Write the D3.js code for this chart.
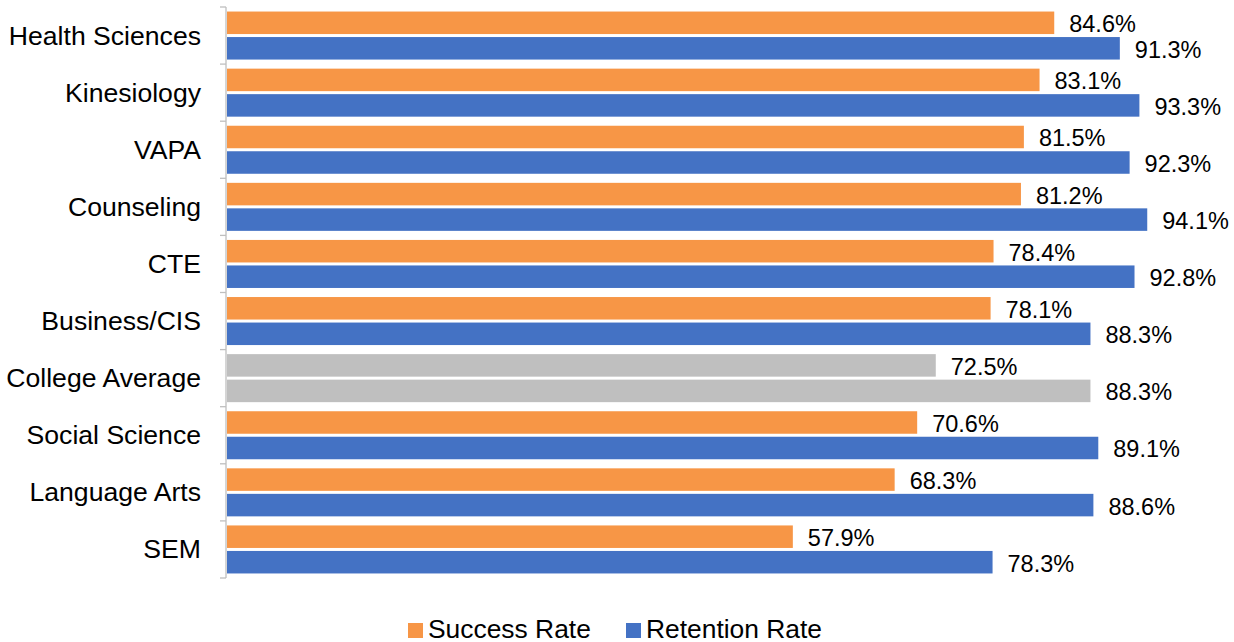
<!DOCTYPE html>
<html>
<head>
<meta charset="utf-8">
<script src="https://cdn.jsdelivr.net/npm/d3@7"></script>
<style>
  html, body { margin: 0; padding: 0; background: #fff; }
  svg { display: block; font-family: "Liberation Sans", Arial, sans-serif; }
</style>
</head>
<body>
<svg id="chart" width="1234" height="642"></svg>
<script>
// Course success and retention by division
const categories = ["Health Sciences", "Kinesiology", "VAPA", "Counseling", "CTE",
  "Business/CIS", "College Average", "Social Science", "Language Arts", "SEM"];
const successRate = [84.6, 83.1, 81.5, 81.2, 78.4, 78.1, 72.5, 70.6, 68.3, 57.9];
const retentionRate = [91.3, 93.3, 92.3, 94.1, 92.8, 88.3, 88.3, 89.1, 88.6, 78.3];
const seriesNames = ["Success Rate", "Retention Rate"];
const highlightCategory = "College Average";

const colors = { "Success Rate": "#F79646", "Retention Rate": "#4472C4" };
const highlightColor = "#BFBFBF";

const svg = d3.select("#chart");
const plotLeft = 226, plotRight = 1205, plotTop = 7, plotBottom = 578;

const x = d3.scaleLinear().domain([0, 100]).range([plotLeft, plotRight]);
const y = d3.scaleBand().domain(categories).range([plotTop, plotBottom]).padding(0);
const inner = d3.scaleBand().domain(seriesNames).range([0, y.bandwidth()])
  .paddingInner(0.1176).paddingOuter(0.178);

const rows = categories.map((c, i) => ({
  category: c,
  values: [
    { series: "Success Rate", value: successRate[i] },
    { series: "Retention Rate", value: retentionRate[i] }
  ]
}));

const groups = svg.append("g").selectAll("g").data(rows).join("g")
  .attr("transform", d => `translate(0,${y(d.category)})`);

groups.selectAll("rect").data(d => d.values.map(v => ({ ...v, category: d.category })))
  .join("rect")
  .attr("x", x(0) + 1)
  .attr("y", d => inner(d.series))
  .attr("width", d => x(d.value) - x(0) - 1)
  .attr("height", inner.bandwidth())
  .attr("fill", d => d.category === highlightCategory ? highlightColor : colors[d.series]);

groups.selectAll("text").data(d => d.values)
  .join("text")
  .attr("x", d => x(d.value) + 15)
  .attr("y", d => inner(d.series) + inner.bandwidth() / 2 + 1.5)
  .attr("dominant-baseline", "central")
  .attr("font-size", 23.5)
  .attr("fill", "#000")
  .text(d => d.value.toFixed(1) + "%");

// Category axis on the left, ticks between categories
const axisG = svg.append("g");
axisG.append("line")
  .attr("x1", plotLeft).attr("x2", plotLeft)
  .attr("y1", plotTop).attr("y2", plotBottom)
  .attr("stroke", "#BFBFBF").attr("stroke-width", 1.3);
const boundaries = categories.map(c => y(c)).concat([plotBottom]);
axisG.selectAll("line.tick").data(boundaries).join("line")
  .attr("class", "tick")
  .attr("x1", plotLeft - 6).attr("x2", plotLeft)
  .attr("y1", d => d).attr("y2", d => d)
  .attr("stroke", "#BFBFBF").attr("stroke-width", 1.3);
axisG.selectAll("text").data(categories).join("text")
  .attr("x", 201)
  .attr("y", d => y(d) + y.bandwidth() / 2)
  .attr("text-anchor", "end")
  .attr("dominant-baseline", "central")
  .attr("font-size", 26.6)
  .attr("fill", "#000")
  .text(d => d);

// Legend
const legendItems = [
  { name: "Success Rate", x: 408 },
  { name: "Retention Rate", x: 626 }
];
const legend = svg.append("g").selectAll("g").data(legendItems).join("g")
  .attr("transform", d => `translate(${d.x},623)`);
legend.append("rect").attr("width", 15).attr("height", 15)
  .attr("fill", d => colors[d.name]);
legend.append("text").attr("x", 20).attr("y", 14.5)
  .attr("font-size", 26.4).attr("fill", "#000")
  .text(d => d.name);
</script>
</body>
</html>
